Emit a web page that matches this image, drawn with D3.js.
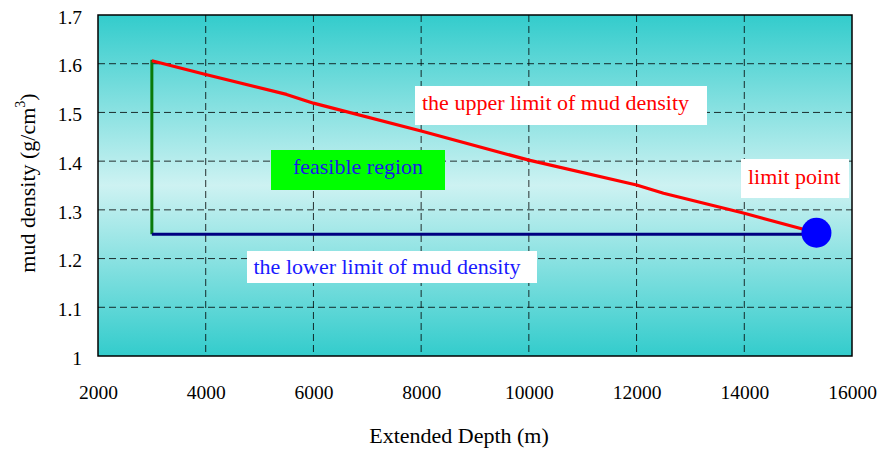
<!DOCTYPE html>
<html><head><meta charset="utf-8">
<script src="https://cdn.jsdelivr.net/npm/d3@7"></script>
<style>body{margin:0;background:#fff}svg{display:block}</style>
</head><body>
<svg id="c" width="879" height="451"></svg>
<script>
const xTicks = [2000,4000,6000,8000,10000,12000,14000,16000];
const yTicks = [1,1.1,1.2,1.3,1.4,1.5,1.6,1.7];
const upperDepth = [3000,4000,5500,6000,8000,10000,12000,12500,14000,15340];
const upperDensity = [1.606,1.578,1.537,1.519,1.462,1.402,1.351,1.334,1.293,1.253];
const lowerDepth = [3000,15340];
const lowerDensity = [1.25,1.25];
const feasibleDepth = [3000,3000];
const feasibleDensity = [1.25,1.608];
const limitPoint = [15340,1.253];
const labels = ["the upper limit of mud density","feasible region","the lower limit of mud density","limit point"];

const svg = d3.select("#c");
const L=98, R=852, T=15, B=356;
const x = d3.scaleLinear().domain([2000,16000]).range([L,R]);
const y = d3.scaleLinear().domain([1,1.7]).range([B,T]);
const font = "'Liberation Serif','Times New Roman',serif";

const defs = svg.append("defs");
const g = defs.append("linearGradient").attr("id","bg").attr("x1",0).attr("y1",0).attr("x2",0).attr("y2",1);
g.append("stop").attr("offset","0%").attr("stop-color","#33cccc");
g.append("stop").attr("offset","50%").attr("stop-color","#cdf2f2");
g.append("stop").attr("offset","100%").attr("stop-color","#33cccc");

svg.append("rect").attr("x",L).attr("y",T).attr("width",R-L).attr("height",B-T).attr("fill","url(#bg)");

// grid
svg.append("g").selectAll("line").data(xTicks.slice(1,-1)).join("line")
  .attr("x1",d=>x(d)).attr("x2",d=>x(d)).attr("y1",T).attr("y2",B)
  .attr("stroke","#000").attr("stroke-width",1).attr("stroke-dasharray","7,4").attr("opacity",0.8);
svg.append("g").selectAll("line").data(yTicks.slice(1,-1)).join("line")
  .attr("y1",d=>y(d)).attr("y2",d=>y(d)).attr("x1",L).attr("x2",R)
  .attr("stroke","#000").attr("stroke-width",1).attr("stroke-dasharray","7,4").attr("opacity",0.8);

svg.append("rect").attr("x",L).attr("y",T).attr("width",R-L).attr("height",B-T)
  .attr("fill","none").attr("stroke","#000").attr("stroke-width",1.5);

// axes labels
const xa = svg.append("g").attr("transform",`translate(0,${B})`)
  .call(d3.axisBottom(x).tickValues(xTicks).tickFormat(d3.format("d")).tickSize(0).tickPadding(29));
xa.select(".domain").remove();
xa.selectAll("text").attr("font-family",font).attr("font-size",19.5).attr("fill","#000");
const ya = svg.append("g").attr("transform",`translate(${L},0)`)
  .call(d3.axisLeft(y).tickValues(yTicks).tickFormat(d=>d===1?"1":d3.format(".1f")(d)).tickSize(0).tickPadding(16));
ya.select(".domain").remove();
ya.selectAll("text").attr("font-family",font).attr("font-size",19.5).attr("fill","#000").attr("dy","0.42em");

svg.append("text").attr("x",459).attr("y",443).attr("text-anchor","middle")
  .attr("font-family",font).attr("font-size",22).text("Extended Depth (m)");
const yt = svg.append("text").attr("transform","translate(35,183) rotate(-90)").attr("text-anchor","middle")
  .attr("font-family",font).attr("font-size",22);
yt.append("tspan").text("mud density (g/cm");
yt.append("tspan").attr("font-size",14).attr("dy",-10).text("3");
yt.append("tspan").attr("dy",10).text(")");

const line = d3.line().x(d=>x(d[0])).y(d=>y(d[1]));
svg.append("path").datum(d3.zip(feasibleDepth,feasibleDensity)).attr("d",line)
  .attr("fill","none").attr("stroke","#0a7a0a").attr("stroke-width",3);
svg.append("path").datum(d3.zip(lowerDepth,lowerDensity)).attr("d",line)
  .attr("fill","none").attr("stroke","#000080").attr("stroke-width",3);
svg.append("path").datum(d3.zip(upperDepth,upperDensity)).attr("d",line)
  .attr("fill","none").attr("stroke","#ff0000").attr("stroke-width",3.2).attr("stroke-linejoin","round");
svg.append("circle").attr("cx",x(limitPoint[0])).attr("cy",y(limitPoint[1])).attr("r",15).attr("fill","#0000ff");

// label boxes
const boxes = [
  {t:labels[0], x:415, y:86, w:292, h:39, bg:"#fff", c:"#ff0000", tx:422, ty:109.5, anchor:"start"},
  {t:labels[1], x:271, y:150, w:174, h:40, bg:"#00ff00", c:"#1a1ae6", tx:358, ty:173.5, anchor:"middle"},
  {t:labels[2], x:247, y:251, w:290, h:32, bg:"#fff", c:"#1a1aff", tx:253.5, ty:274, anchor:"start"},
  {t:labels[3], x:741, y:159, w:108, h:39, bg:"#fff", c:"#ff0000", tx:748, ty:183.5, anchor:"start"}
];
const bg = svg.append("g").selectAll("g").data(boxes).join("g");
bg.append("rect").attr("x",d=>d.x).attr("y",d=>d.y).attr("width",d=>d.w).attr("height",d=>d.h).attr("fill",d=>d.bg);
bg.append("text").attr("x",d=>d.tx).attr("y",d=>d.ty).attr("text-anchor",d=>d.anchor)
  .attr("font-family",font).attr("font-size",22).attr("fill",d=>d.c).text(d=>d.t);
</script>
</body></html>
